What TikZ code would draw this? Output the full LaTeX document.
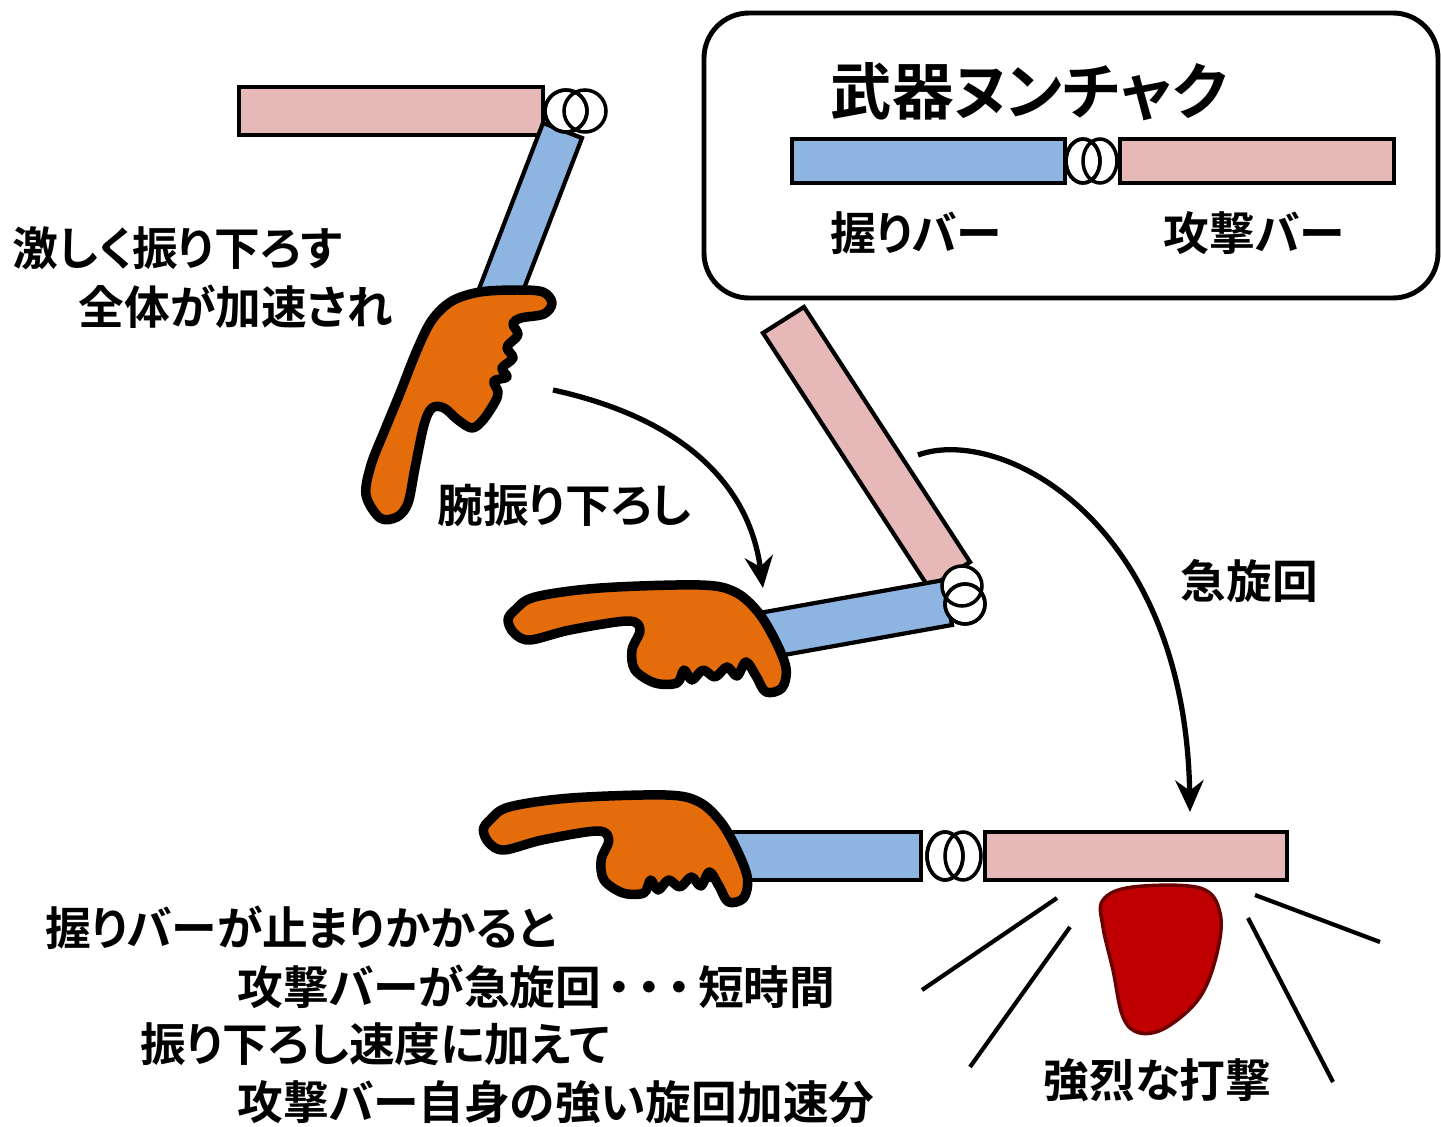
\documentclass[tikz,border=0pt]{standalone}
\usepackage{fontspec}
\usepackage{tikz}
\usetikzlibrary{arrows.meta}
\newfontfamily\jpfont[BoldFont={Noto Sans CJK JP Bold},RawFeature=+palt]{Noto Sans CJK JP}
\definecolor{pinkbar}{HTML}{E6B9B8}
\definecolor{bluebar}{HTML}{8EB4E2}
\definecolor{handorange}{HTML}{E46C0A}
\definecolor{hitred}{HTML}{C00000}
\tikzset{
  every node/.append style={font=\jpfont\bfseries\fontsize{13}{15}\selectfont,inner sep=0pt},
  gripbar/.style={draw=black,fill=bluebar,line width=1.2pt},
  hitbar/.style={draw=black,fill=pinkbar,line width=1.2pt},
  ring/.style={draw=black,fill=white,line width=1pt},
  skin/.style={draw=black,fill=handorange,line width=2.7pt,line join=round},
  swing/.style={line width=1.5pt,-{Stealth[length=9pt,width=8pt]}},
  hand/.pic={\path[skin] plot[smooth cycle,tension=.55] coordinates {
    (-7,0) (0,-10) (20,-23) (85,-32) (185,-35) (220,-28) (243,-8) (260,20)
    (271,48) (267,68) (251,72) (241,56) (231,42) (222,56) (212,47) (200,57)
    (188,50) (177,60) (169,50) (162,63) (140,63) (120,50) (117,30) (125,10)
    (113,1) (55,10) (15,20) (-1,13)};}
}

\begin{document}
\begin{tikzpicture}[x=0.01cm,y=-0.01cm]
\useasboundingbox[fill=white] (0,0) rectangle (1441,1127);

\draw[line width=1.4pt,rounded corners=.45cm] (704,13) rectangle (1438,298);
\node[anchor=west,font=\jpfont\bfseries\fontsize{17.5}{19}\selectfont] (title) at (830,92) {武器ヌンチャク};
\path[gripbar] (792,139) rectangle (1065,183);
\path[hitbar] (1120,139) rectangle (1394,183);
\path[ring] (1083,161) ellipse [x radius=17,y radius=22] (1100,161) ellipse [x radius=17,y radius=22];
\draw[line width=1pt] (1083,161) ellipse [x radius=17,y radius=22];
\node[anchor=west] (griplbl) at (830,233) {握りバー};
\node[anchor=west] (hitlbl) at (1163,233) {攻撃バー};

\path[hitbar] (239,87) rectangle (543,135);
\path[gripbar] (543,123) -- (582,138) -- (506,335) -- (467,320) -- cycle;
\path[ring] (566,111) circle (21) (585,111) circle (21);
\draw[line width=1pt] (566,111) circle (21);
\path[skin] plot[smooth cycle,tension=.55] coordinates {
  (366,495) (371,465) (384,432) (400,393) (417,350) (432,320) (452,301) (480,292)
  (517,290) (543,292) (552,303) (544,314) (521,318) (513,324) (518,335) (507,347)
  (513,358) (502,368) (507,377) (494,381) (498,392) (495,402) (483,420) (472,428)
  (458,420) (444,408) (432,408) (424,425) (415,468) (408,503) (397,517) (380,518)};

\path[hitbar] (763,333) -- (804,307) -- (970,562) -- (929,588) -- cycle;
\path[gripbar] (944,580) -- (952,625) -- (728,665) -- (720,620) -- cycle;
\path[ring] (965,604) circle (20) (962,586) circle (20);
\draw[line width=1pt] (965,604) circle (20);
\pic at (515,620) {hand};

\path[gripbar] (700,832) rectangle (921,880);
\path[hitbar] (985,832) rectangle (1287,880);
\path[ring] (945,856) ellipse [x radius=18,y radius=24] (963,856) ellipse [x radius=18,y radius=24];
\draw[line width=1pt] (945,856) ellipse [x radius=18,y radius=24];
\pic[shift={(490,830)},xscale=.95] {hand};

\filldraw[draw=hitred!55!black,fill=hitred,line width=1pt] plot[smooth cycle,tension=.6] coordinates {
  (1103,900) (1133,887) (1200,888) (1220,913) (1217,953) (1200,997) (1167,1027)
  (1140,1033) (1123,1017) (1113,970) (1103,927)};
\draw[line width=1.2pt] (1057,898) -- (922,990) (1070,927) -- (970,1067)
  (1255,895) -- (1380,942) (1248,918) -- (1333,1082);

\coordinate (downA) at (553,390);
\coordinate (downB) at (763,588);
\draw[swing] (downA) .. controls (690,420) and (750,490) .. (downB);
\coordinate (spinA) at (918,455);
\coordinate (spinB) at (1190,812);
\draw[swing] (spinA) .. controls (1000,425) and (1185,520) .. (spinB);

\node[anchor=west] (fast1) at (12,248) {激しく振り下ろす};
\node[anchor=west] (fast2) at (78,307) {全体が加速され};
\node[anchor=west] (armdown) at (437,505) {腕振り下ろし};
\node[anchor=west] (spin) at (1180,581) {急旋回};
\node[anchor=west] (hit) at (1043,1080) {強烈な打撃};
\node[anchor=west] (note1) at (45,928) {握りバーが止まりかかると};
\node[anchor=west] (note2) at (237,987) {攻撃バーが急旋回\kern2pt・\kern2pt・\kern2pt・\kern2pt 短時間};
\node[anchor=west] (note3) at (140,1044) {振り下ろし速度に加えて};
\node[anchor=west] (note4) at (237,1102) {攻撃バー自身の強い旋回加速分};
\end{tikzpicture}
\end{document}
